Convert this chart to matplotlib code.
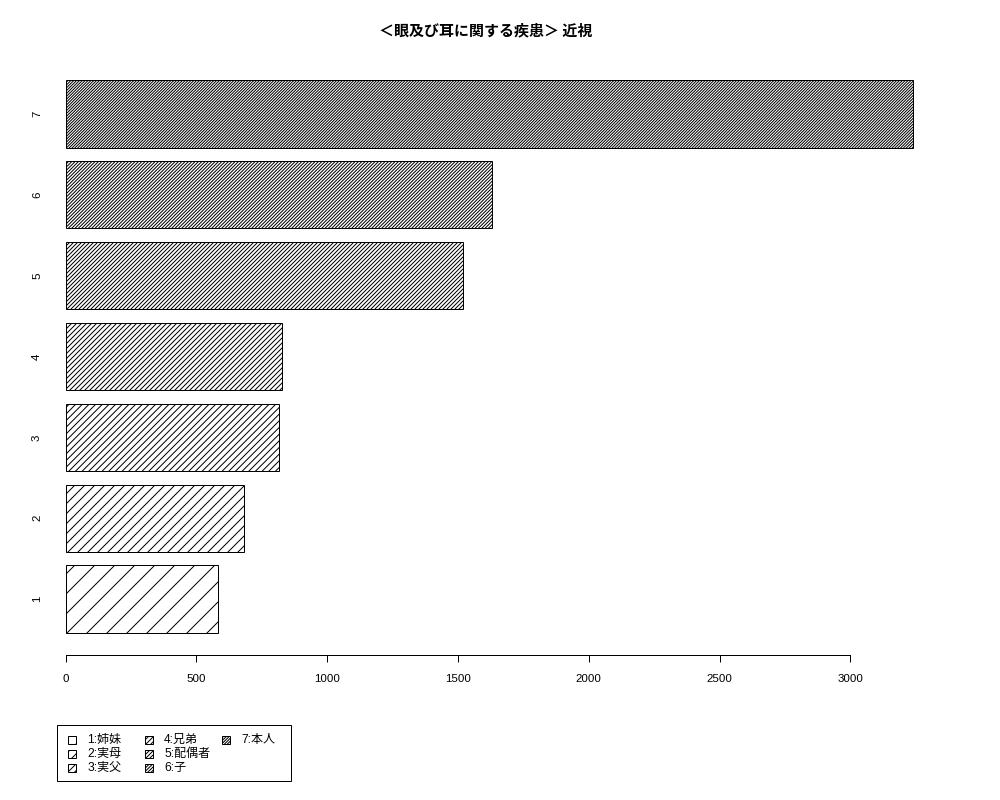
import matplotlib
matplotlib.use('Agg')
import matplotlib.pyplot as plt
from matplotlib.patches import Rectangle

# values
categories = ['1', '2', '3', '4', '5', '6', '7']
values = [582, 683, 814, 826, 1518, 1629, 3241]
legend_labels = ['1:姉妹', '2:実母', '3:実父', '4:兄弟', '5:配偶者', '6:子', '7:本人']
xticks = [0, 500, 1000, 1500, 2000, 2500, 3000]
title = '＜眼及び耳に関する疾患＞ 近視'

DPI = 120
PT = 72 / DPI  # points per pixel

plt.rcParams['font.family'] = ['Liberation Sans', 'Noto Sans CJK JP', 'DejaVu Sans']
plt.rcParams['hatch.linewidth'] = 1.0 * PT
plt.rcParams['hatch.color'] = 'black'

fig = plt.figure(figsize=(1000 / DPI, 800 / DPI), dpi=DPI)

# pixel mapping of the reference: 0 -> x=65.7, 3000 -> x=850.3
scale = (850.3 - 65.7) / 3000
left_px, right_px = 52, 970
ax = fig.add_axes([left_px / 1000, (800 - 655) / 800,
                   (right_px - left_px) / 1000, (655 - 58) / 800])
ax.set_xlim((left_px - 65.7) / scale, (right_px - 65.7) / scale)

# R barplot layout: width 1, space 0.2; hatch density grows with the category
pos = [0.7 + 1.2 * i for i in range(len(values))]
hatches = ['//' * (i + 1) for i in range(len(values))]
for p, v, h in zip(pos, values, hatches):
    ax.barh(p, v, height=1.0, left=0, color='white', edgecolor='black',
            linewidth=1.0 * PT, hatch=h)

span = pos[-1] + 0.5 - (pos[0] - 0.5)
ax.set_ylim(pos[0] - 0.5 - 0.04 * span, pos[-1] + 0.5 + 0.04 * span)

for s in ['top', 'right', 'left']:
    ax.spines[s].set_visible(False)
ax.spines['bottom'].set_bounds(0, 3000)
ax.spines['bottom'].set_linewidth(1.0 * PT)

ax.set_xticks(xticks, [str(t) for t in xticks])
ax.tick_params(axis='x', direction='out', length=7 * PT, width=1.0 * PT,
               pad=12 * PT, labelsize=11.5 * PT)
ax.set_yticks(pos, categories, rotation=90, va='center')
ax.tick_params(axis='y', length=0, pad=10 * PT, labelsize=11.5 * PT)

fig.text(0.486, 1 - 30 / 800, title, ha='center', va='center',
         fontsize=15 * PT, fontweight='bold',
         family=['Noto Sans CJK JP', 'DejaVu Sans'])

# legend drawn by hand in pixel space (R layout: 3 rows, column-wise)
lax = fig.add_axes([0, 0, 1, 1])
lax.set_xlim(0, 1000)
lax.set_ylim(800, 0)
lax.axis('off')
lax.add_patch(Rectangle((57, 725), 234, 56, facecolor='white', edgecolor='black',
                        linewidth=1.0 * PT))
col_x = [68, 145, 222]
row_y = [740, 754, 768]
for i, (lab, h) in enumerate(zip(legend_labels, hatches)):
    cx = col_x[i // 3]
    cy = row_y[i % 3]
    lax.add_patch(Rectangle((cx, cy - 4), 8, 8, facecolor='white',
                            edgecolor='black', linewidth=1.0 * PT, hatch=h))
    lax.text(cx + 19, cy, lab, ha='left', va='center', fontsize=12 * PT)

fig.savefig('out.png', dpi=DPI)
